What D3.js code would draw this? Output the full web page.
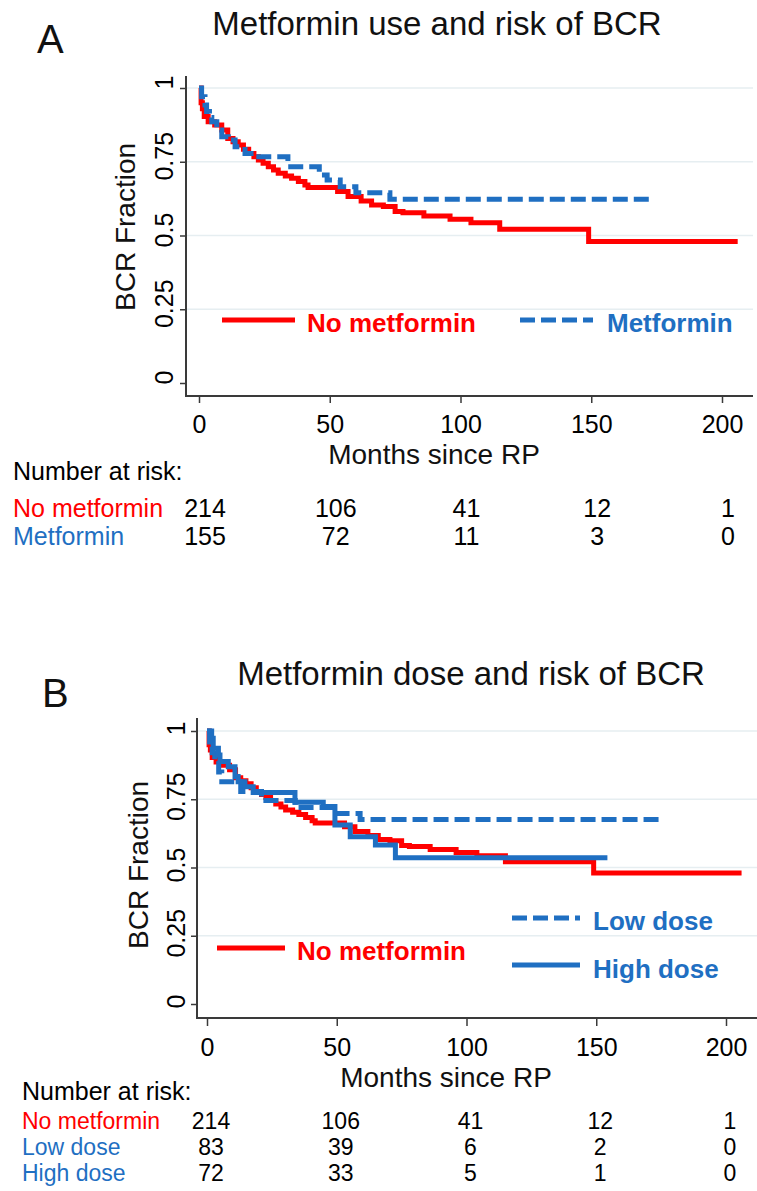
<!DOCTYPE html>
<html>
<head>
<meta charset="utf-8">
<script src="https://cdn.jsdelivr.net/npm/d3@7"></script>
<style>
  body { margin: 0; background: #fff; }
</style>
</head>
<body>
<script>
// ---- data ----
const monthTicks = [0, 50, 100, 150, 200];
const fracTicks = [0, 0.25, 0.5, 0.75, 1];
const fracTickLabels = ["0", "0.25", "0.5", "0.75", "1"];

// Kaplan-Meier steps (months, fraction BCR-free)
const noMetTime = [0, 0.8, 1.3, 2, 3.5, 6, 8.7, 11, 13, 15, 17, 19, 21, 22.7, 24.5, 26.5, 28.5, 30.3, 33, 35.4, 38, 40.5, 41.7, 53, 57, 62, 66, 70.5, 75, 78, 86, 96, 104, 115, 149, 206];
const noMetSurv = [1, 0.95, 0.93, 0.903, 0.886, 0.875, 0.858, 0.829, 0.818, 0.807, 0.792, 0.778, 0.767, 0.756, 0.745, 0.733, 0.722, 0.711, 0.702, 0.694, 0.683, 0.671, 0.663, 0.649, 0.632, 0.617, 0.603, 0.598, 0.581, 0.577, 0.566, 0.555, 0.543, 0.521, 0.48, 0.48];

const metTime = [0, 1, 2.3, 2.9, 4, 4.9, 6.8, 8.7, 11.2, 13.8, 17.6, 21.4, 34, 46, 49, 54, 60, 73, 173.5];
const metSurv = [1, 0.97, 0.942, 0.92, 0.9, 0.886, 0.858, 0.835, 0.824, 0.801, 0.778, 0.767, 0.733, 0.705, 0.688, 0.665, 0.645, 0.623, 0.623];

const lowTime = [0, 1, 2, 3, 4.5, 5.7, 13, 21, 34, 49, 59, 174.6];
const lowSurv = [1, 0.96, 0.92, 0.88, 0.85, 0.814, 0.778, 0.745, 0.72, 0.698, 0.676, 0.676];

const highTime = [0, 1.8, 2.4, 4.4, 5, 8.2, 10.8, 12, 14.6, 17.8, 33.9, 44.8, 49.3, 55.2, 64.9, 72.6, 154.3];
const highSurv = [1, 0.973, 0.937, 0.912, 0.888, 0.869, 0.833, 0.814, 0.796, 0.775, 0.739, 0.723, 0.656, 0.613, 0.582, 0.536, 0.536];

// number at risk at 0, 50, 100, 150, 200 months
const riskNoMet = [214, 106, 41, 12, 1];
const riskMet = [155, 72, 11, 3, 0];
const riskLow = [83, 39, 6, 2, 0];
const riskHigh = [72, 33, 5, 1, 0];

// ---- styles ----
const font = "'Liberation Sans', Arial, sans-serif";
const red = "#ff0000",
    blue = "#1f6fc2",
    axisColor = "#3a3a3a",
    gridColor = "#e6eef1";
const dashed = "15,6";

const svg = d3.select("body").append("svg")
    .attr("width", 757)
    .attr("height", 1191)
    .style("background", "#fff")
    .attr("font-family", font);

function drawPanel(p) {
    const g = svg.append("g");
    const x = d3.scaleLinear().domain([0, 200]).range([p.x0, p.x200]);
    const y = d3.scaleLinear().domain([0, 1]).range([p.y0, p.y1]);

    // grid lines
    g.append("g").selectAll("line")
        .data(fracTicks.filter(d => d > 0))
        .join("line")
        .attr("x1", p.left).attr("x2", p.right)
        .attr("y1", d => y(d)).attr("y2", d => y(d))
        .attr("stroke", gridColor)
        .attr("stroke-width", 1.5);

    // curves
    const line = d3.line()
        .x(d => x(d[0]))
        .y(d => y(d[1]))
        .curve(d3.curveStepAfter);
    p.curves.forEach(c => {
        g.append("path")
            .datum(d3.zip(c.time, c.surv))
            .attr("d", line)
            .attr("fill", "none")
            .attr("stroke", c.color)
            .attr("stroke-width", 5)
            .attr("stroke-dasharray", c.dash)
    });

    // x axis
    const xa = g.append("g")
        .attr("transform", `translate(0,${p.bottom})`)
        .call(d3.axisBottom(x).tickValues(monthTicks).tickSize(p.tick).tickPadding(p.pad).tickFormat(d3.format("d")));
    xa.attr("font-size", 25).attr("font-family", font);
    xa.select(".domain").remove();
    xa.selectAll("line").attr("stroke", axisColor).attr("stroke-width", 1.5);
    xa.selectAll("text").attr("fill", "#000");
    g.append("line")
        .attr("x1", p.left - 1).attr("x2", p.right)
        .attr("y1", p.bottom).attr("y2", p.bottom)
        .attr("stroke", axisColor).attr("stroke-width", 2);

    // y axis with rotated labels
    const ya = g.append("g")
        .attr("transform", `translate(${p.left},0)`)
        .call(d3.axisLeft(y).tickValues(fracTicks).tickSize(6).tickFormat((d, i) => fracTickLabels[i]));
    ya.attr("font-size", 25).attr("font-family", font);
    ya.select(".domain").remove();
    ya.selectAll("line").attr("stroke", axisColor).attr("stroke-width", 1.5);
    ya.selectAll("text")
        .attr("fill", "#000")
        .attr("x", p.yShift)
        .attr("y", -p.yGap)
        .attr("dy", 0)
        .attr("text-anchor", "middle")
        .attr("transform", "rotate(-90)");
    g.append("line")
        .attr("x1", p.left).attr("x2", p.left)
        .attr("y1", p.top).attr("y2", p.bottom)
        .attr("stroke", axisColor).attr("stroke-width", 2);

    // titles
    g.append("text").attr("x", p.titleX).attr("y", p.titleY)
        .attr("text-anchor", "middle").attr("font-size", 33).attr("fill", "#111")
        .text(p.title);
    g.append("text").attr("x", p.letterX).attr("y", p.letterY)
        .attr("font-size", 40).attr("fill", "#111")
        .text(p.letter);
    g.append("text").attr("x", p.xlabX).attr("y", p.xlabY)
        .attr("text-anchor", "middle").attr("font-size", 28).attr("fill", "#111")
        .text("Months since RP");
    g.append("text")
        .attr("transform", `translate(${p.ylabX},${p.ylabY}) rotate(-90)`)
        .attr("text-anchor", "middle").attr("font-size", 28).attr("fill", "#111")
        .text("BCR Fraction");

    // legend
    p.legend.forEach(l => {
        g.append("line")
            .attr("x1", l.x1).attr("x2", l.x2)
            .attr("y1", l.y).attr("y2", l.y)
            .attr("stroke", l.color).attr("stroke-width", 5)
            .attr("stroke-dasharray", l.dash);
        g.append("text")
            .attr("x", l.tx).attr("y", l.ty)
            .attr("font-size", 26).attr("font-weight", "bold")
            .attr("fill", l.color)
            .text(l.label);
    });

    // number at risk table
    g.append("text").attr("x", p.riskX).attr("y", p.riskHeadY)
        .attr("font-size", 25).attr("fill", "#000")
        .text("Number at risk:");
    p.risk.forEach((r, i) => {
        const ty = p.riskRowY[i];
        g.append("text").attr("x", p.riskX).attr("y", ty)
            .attr("font-size", p.riskFont).attr("fill", r.color)
            .text(r.label);
        g.append("g").selectAll("text")
            .data(r.values)
            .join("text")
            .attr("x", (d, j) => x(monthTicks[j]) + p.numOffset)
            .attr("y", ty)
            .attr("text-anchor", "middle")
            .attr("font-size", p.riskFont)
            .attr("fill", "#000")
            .text(d => d);
    });
}

drawPanel({
    left: 186, right: 753, top: 76, bottom: 396,
    x0: 199, x200: 722, y0: 383, y1: 88,
    tick: 7, pad: 12, yGap: 13, yShift: 6,
    title: "Metformin use and risk of BCR", titleX: 437, titleY: 35,
    letter: "A", letterX: 37, letterY: 53,
    xlabX: 434, xlabY: 464, ylabX: 135, ylabY: 227,
    curves: [
        {time: noMetTime, surv: noMetSurv, color: red, dash: null},
        {time: metTime, surv: metSurv, color: blue, dash: dashed}
    ],
    legend: [
        {label: "No metformin", color: red, dash: null, x1: 222, x2: 295, y: 320, tx: 307, ty: 332},
        {label: "Metformin", color: blue, dash: dashed, x1: 520, x2: 593, y: 320, tx: 607, ty: 332}
    ],
    riskX: 13, riskHeadY: 480, riskRowY: [517, 545], numOffset: 6, riskFont: 25,
    risk: [
        {label: "No metformin", color: red, values: riskNoMet},
        {label: "Metformin", color: blue, values: riskMet}
    ]
});

drawPanel({
    left: 197, right: 757, top: 718, bottom: 1018,
    x0: 207, x200: 726, y0: 1004, y1: 731,
    tick: 8, pad: 12, yGap: 12, yShift: 3,
    title: "Metformin dose and risk of BCR", titleX: 471, titleY: 685,
    letter: "B", letterX: 42, letterY: 707,
    xlabX: 446, xlabY: 1087, ylabX: 148, ylabY: 865,
    curves: [
        {time: noMetTime, surv: noMetSurv, color: red, dash: null},
        {time: lowTime, surv: lowSurv, color: blue, dash: dashed},
        {time: highTime, surv: highSurv, color: blue, dash: null}
    ],
    legend: [
        {label: "No metformin", color: red, dash: null, x1: 217, x2: 285, y: 948, tx: 297, ty: 960},
        {label: "Low dose", color: blue, dash: dashed, x1: 512, x2: 580, y: 918, tx: 593, ty: 930},
        {label: "High dose", color: blue, dash: null, x1: 512, x2: 580, y: 965, tx: 593, ty: 978}
    ],
    riskX: 22, riskHeadY: 1100, riskRowY: [1129, 1155, 1181], numOffset: 4, riskFont: 23,
    risk: [
        {label: "No metformin", color: red, values: riskNoMet},
        {label: "Low dose", color: blue, values: riskLow},
        {label: "High dose", color: blue, values: riskHigh}
    ]
});
</script>
</body>
</html>
